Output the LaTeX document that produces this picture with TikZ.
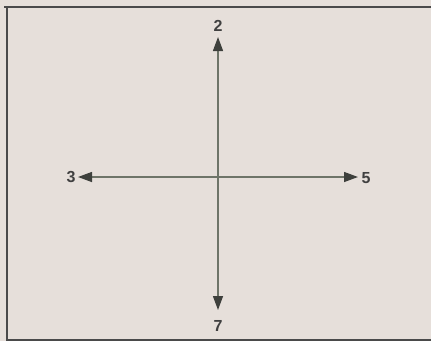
\documentclass[tikz,border=0pt]{standalone}
\usepackage{fontspec}
\setmainfont{Liberation Sans}
\usetikzlibrary{arrows.meta}
\definecolor{bg}{HTML}{E6DFDA}
\definecolor{axis}{HTML}{6E7468}
\definecolor{tip}{HTML}{3E403C}
\definecolor{frame}{HTML}{4A4A4A}
\definecolor{lab}{HTML}{404040}
\tikzset{
  axisline/.style={draw=axis, line width=1.3pt, -{Triangle[length=14pt,width=10pt,color=tip]}},
  lbl/.style={text=lab, font=\bfseries\fontsize{16}{16}\selectfont, inner sep=0pt},
  framel/.style={draw=frame, line width=2pt}
}
\begin{document}
\begin{tikzpicture}[x=1pt,y=-1pt]
\fill[bg] (0,0) rectangle (431,341);
\useasboundingbox (0,0) rectangle (431,341);
\coordinate (tl) at (7,7);
\coordinate (tr) at (431,7);
\coordinate (bl) at (7,341);
\coordinate (br) at (431,340);
\draw[framel] (4,7) -- (tr);
\draw[framel] (tl) -- (bl);
\draw[draw=frame, line width=1.5pt] (7,340) -- (br);
\coordinate (c) at (218,177);
\coordinate (n) at (218,37);
\coordinate (s) at (218,310);
\coordinate (w) at (78,177);
\coordinate (e) at (358,177);
\draw[axisline] (c) -- (n);
\draw[axisline] (c) -- (s);
\draw[axisline] (c) -- (w);
\draw[axisline] (c) -- (e);
\node[lbl] (l2) at (218,26) {2};
\node[lbl] (l7) at (218,326) {7};
\node[lbl] (l3) at (71,177) {3};
\node[lbl] (l5) at (366,178) {5};
\end{tikzpicture}
\end{document}
